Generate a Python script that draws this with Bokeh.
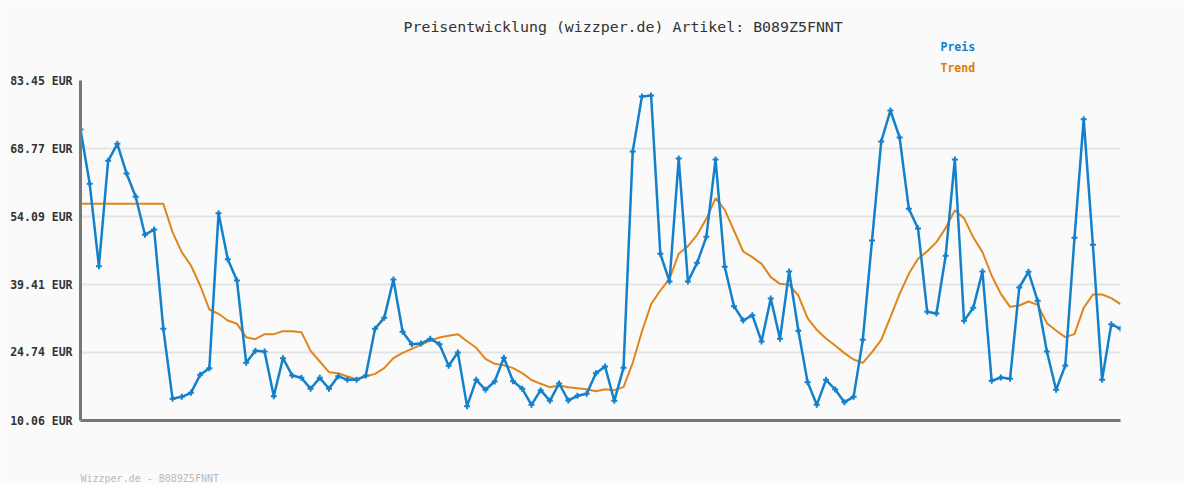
from bokeh.plotting import figure
from bokeh.models import FixedTicker, Title
from bokeh.embed import file_html
from bokeh.resources import INLINE

title_text = "Preisentwicklung (wizzper.de) Artikel: B089Z5FNNT"
footer_text = "Wizzper.de - B089Z5FNNT"
legend_names = ["Preis", "Trend"]

preis = [72.87, 61.15, 43.37, 66.11, 69.78, 63.38, 58.34, 50.14, 51.29, 29.85,
         14.74, 15.17, 16.03, 19.92, 21.36, 54.81, 44.89, 40.28, 22.51, 25.10,
         24.96, 15.31, 23.52, 19.77, 19.27, 16.90, 19.27, 16.90, 19.63, 18.84,
         18.84, 19.77, 29.85, 32.22, 40.50, 29.20, 26.54, 26.68, 27.69, 26.54,
         21.86, 24.74, 13.16, 18.84, 16.68, 18.48, 23.59, 18.55, 16.90, 13.44,
         16.61, 14.31, 18.05, 14.38, 15.39, 15.82, 20.28, 21.72, 14.31, 21.43,
         68.13, 80.00, 80.21, 46.04, 40.06, 66.61, 40.06, 44.09, 49.71, 66.40,
         43.23, 34.74, 31.65, 32.80, 27.11, 36.40, 27.69, 42.22, 29.42, 18.34,
         13.44, 18.84, 16.75, 14.02, 15.17, 27.47, 48.91, 70.28, 76.97, 71.15,
         55.75, 51.51, 33.52, 33.16, 45.61, 66.40, 31.57, 34.38, 42.22, 18.62,
         19.34, 19.06, 38.77, 42.15, 35.89, 24.96, 16.68, 21.93, 49.49, 75.10,
         47.98, 18.84, 30.86, 29.85]

trend = [56.83, 56.83, 56.83, 56.83, 56.83, 56.83, 56.83, 56.83, 56.83, 56.83,
         50.71, 46.40, 43.52, 39.20, 34.02, 33.09, 31.65, 30.93, 28.05, 27.62,
         28.70, 28.70, 29.35, 29.35, 29.13, 25.10, 22.80, 20.49, 20.28, 19.56,
         18.98, 19.56, 20.13, 21.36, 23.52, 24.67, 25.53, 26.40, 27.33, 27.98,
         28.34, 28.70, 27.18, 25.75, 23.37, 22.29, 22.00, 21.36, 20.28, 18.80,
         17.98, 17.26, 17.62, 17.26, 17.04, 16.82, 16.39, 16.82, 16.61, 17.26,
         22.51, 29.27, 35.17, 38.12, 40.64, 46.05, 47.69, 50.14, 53.59, 58.05,
         55.53, 51.07, 46.54, 45.32, 43.88, 41.00, 39.56, 39.35, 37.04, 32.15,
         29.63, 27.75, 26.25, 24.60, 23.23, 22.51, 24.81, 27.47, 32.37, 37.40,
         41.72, 44.96, 46.61, 48.56, 51.58, 55.46, 53.74, 49.60, 46.40, 41.36,
         37.40, 34.60, 34.88, 35.75, 35.03, 31.07, 29.49, 28.05, 28.70, 34.38,
         37.26, 37.26, 36.46, 35.17]

y_ticks = [10.06, 24.74, 39.41, 54.09, 68.77, 83.45]
y_tick_labels = ["10.06 EUR", "24.74 EUR", "39.41 EUR", "54.09 EUR", "68.77 EUR", "83.45 EUR"]

x = list(range(len(preis)))

BLUE = "#1380cc"
ORANGE = "#e0851a"
BG = "#fafafa"
MONO = "DejaVu Sans Mono"

p = figure(width=1184, height=484, output_backend="svg", toolbar_location=None,
           x_range=(0, len(preis) - 1), y_range=(y_ticks[0], y_ticks[-1]),
           min_border_left=80, min_border_right=64, min_border_top=80, min_border_bottom=64)
p.title.visible = False
p.background_fill_color = BG
p.border_fill_color = BG
p.outline_line_color = None

p.xgrid.visible = False
p.ygrid.ticker = FixedTicker(ticks=y_ticks)
p.ygrid.grid_line_color = "#e4e4e4"
p.ygrid.grid_line_width = 2

p.yaxis.ticker = FixedTicker(ticks=y_ticks)
p.yaxis.major_label_overrides = {t: l for t, l in zip(y_ticks, y_tick_labels)}
p.yaxis.major_tick_line_color = None
p.yaxis.minor_tick_line_color = None
p.yaxis.major_tick_in = 0
p.yaxis.major_tick_out = 0
p.yaxis.major_label_standoff = 8
p.yaxis.major_label_text_font = MONO
p.yaxis.major_label_text_font_size = "11.5px"
p.yaxis.major_label_text_font_style = "bold"
p.yaxis.major_label_text_color = "#333333"
p.yaxis.axis_line_color = "#777777"
p.yaxis.axis_line_width = 3

p.xaxis.ticker = FixedTicker(ticks=[])
p.xaxis.major_tick_line_color = None
p.xaxis.minor_tick_line_color = None
p.xaxis.major_tick_in = 0
p.xaxis.major_tick_out = 0
p.xaxis.major_label_text_font_size = "0px"
p.xaxis.axis_line_color = "#777777"
p.xaxis.axis_line_width = 3

p.line(x, trend, line_color=ORANGE, line_width=2)
p.line(x, preis, line_color=BLUE, line_width=2.5)
p.scatter(x, preis, marker="cross", size=6, line_color=BLUE, line_width=2)

p.add_layout(Title(text=legend_names[1], align="left", offset=860, text_font=MONO,
                   text_font_size="11.5px", text_font_style="bold", text_color="#e07b00",
                   standoff=11), "above")
p.add_layout(Title(text=legend_names[0], align="left", offset=860, text_font=MONO,
                   text_font_size="11.5px", text_font_style="bold", text_color=BLUE,
                   standoff=0), "above")
p.add_layout(Title(text=title_text, align="left", offset=323, text_font=MONO,
                   text_font_size="14.9px", text_font_style="normal", text_color="#333333",
                   standoff=4), "above")
# spacer between plot frame and footer line
p.add_layout(Title(text=" ", text_font_size="1px", standoff=46), "below")
p.add_layout(Title(text=footer_text, align="left", offset=0, text_font=MONO,
                   text_font_size="10px", text_font_style="normal", text_color="#bbbbbb",
                   standoff=2), "below")

open("out.html", "w").write(file_html(p, INLINE))
